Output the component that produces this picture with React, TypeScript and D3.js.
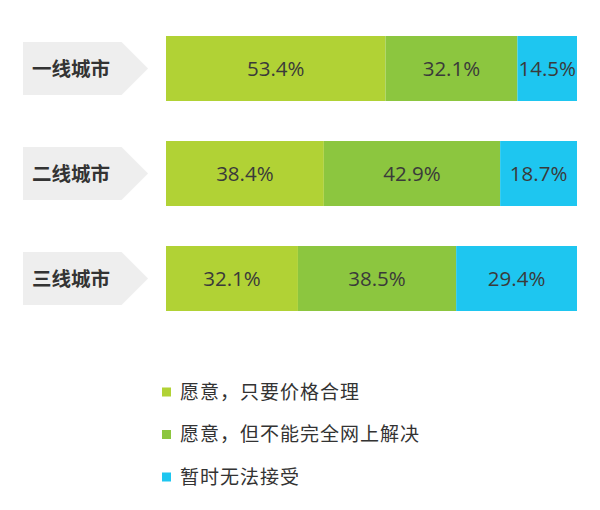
import React from "react";
import * as d3 from "d3";

const categories = ["一线城市", "二线城市", "三线城市"];
const seriesNames = ["愿意，只要价格合理", "愿意，但不能完全网上解决", "暂时无法接受"];
const willingPrice = [53.4, 38.4, 32.1];
const willingPartial = [32.1, 42.9, 38.5];
const notAccept = [14.5, 18.7, 29.4];
const colors = ["#b1d235", "#8cc63f", "#1ec6f0"];

const W = 600;
const H = 510;

export default function App() {
  const rows = categories.map((c, i) => ({
    cat: c,
    a: willingPrice[i],
    b: willingPartial[i],
    c: notAccept[i],
  }));
  const stack = d3.stack<any>().keys(["a", "b", "c"])(rows);

  const x = d3.scaleLinear().domain([0, 100]).range([166, 577]);
  const y = d3.scaleBand().domain(categories).range([36, 311]).paddingInner(40 / 105).paddingOuter(0);
  const bh = y.bandwidth();

  const legendY = d3.scalePoint().domain(seriesNames).range([392, 477]);

  const cjk = "'Noto Sans CJK SC', 'Noto Sans', sans-serif";

  return (
    <svg width={W} height={H} style={{ display: "block", position: "absolute", left: 0, top: 0 }}>
      <rect width={W} height={H} fill="#ffffff" />
      {categories.map((c) => {
        const y0 = (y(c) as number) + 6;
        const y1 = (y(c) as number) + bh - 6;
        const ym = (y0 + y1) / 2;
        const half = (y1 - y0) / 2;
        const path = d3.path();
        path.moveTo(23, y0);
        path.lineTo(148 - half, y0);
        path.lineTo(148, ym);
        path.lineTo(148 - half, y1);
        path.lineTo(23, y1);
        path.closePath();
        return (
          <g key={c}>
            <path d={path.toString()} fill="#eeeeee" />
            <text x={32} y={ym} dy="0.36em" fontFamily={cjk} fontWeight="bold" fontSize={19.5} fill="#333333">
              {c}
            </text>
          </g>
        );
      })}
      {stack.map((s, si) => (
        <g key={si}>
          {s.map((d: any, i: number) => {
            const x0 = x(d[0]);
            const x1 = x(d[1]);
            const yy = y(categories[i]) as number;
            return (
              <g key={i}>
                <rect x={x0} y={yy} width={x1 - x0} height={bh} fill={colors[si]} />
                <text
                  x={(x0 + x1) / 2}
                  y={yy + bh / 2}
                  dy="0.36em"
                  textAnchor="middle"
                  fontFamily="'Open Sans', 'Noto Sans', sans-serif"
                  fontSize={20.5}
                  fill="#3a3a3a"
                >
                  {(d[1] - d[0]).toFixed(1)}%
                </text>
              </g>
            );
          })}
        </g>
      ))}
      {seriesNames.map((n, i) => {
        const ly = legendY(n) as number;
        return (
          <g key={n}>
            <rect x={162} y={ly - 4.5} width={9} height={9} fill={colors[i]} />
            <text x={180} y={ly} dy="0.36em" fontFamily={cjk} fontSize={19} letterSpacing={1} fill="#333333">
              {n}
            </text>
          </g>
        );
      })}
    </svg>
  );
}
